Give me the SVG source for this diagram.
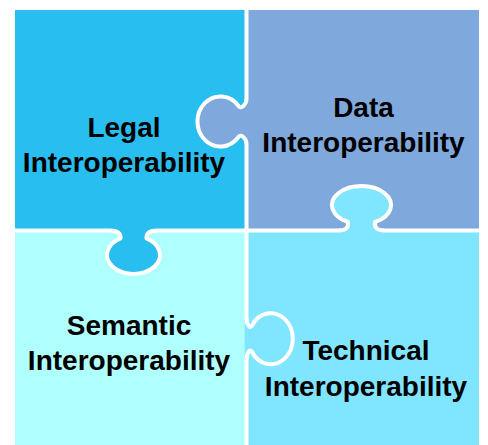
<svg xmlns="http://www.w3.org/2000/svg" width="488" height="445" viewBox="0 0 488 445">
<style>
.t{font-family:"Liberation Sans",Arial,sans-serif;font-weight:bold;font-size:28px;fill:#000;text-anchor:middle}
.ol{fill:none;stroke:#fff;stroke-width:4;stroke-linejoin:round}
</style>
<rect width="488" height="445" fill="#fff"/>
<g id="legal">
<rect x="15" y="10" width="229.5" height="218.5" fill="#29BEF0"/>
</g>
<g id="data">
<rect x="248.5" y="10" width="230.5" height="218.5" fill="#7FA8DC"/>
</g>
<g id="semantic">
<rect x="15" y="232.5" width="229.5" height="213" fill="#B0FFFF"/>
</g>
<g id="technical">
<rect x="248.5" y="232.5" width="230.5" height="213" fill="#80E5FF"/>
</g>
<g id="knobs">
<path d="M246.5 99 C246.5 104 241 110 238.5 106 A23 25 0 1 0 238.5 137 C241 133 246.5 139 246.5 144 L250 144 L250 99 Z" fill="#7FA8DC"/>
<path class="ol" d="M246.5 99 C246.5 104 241 110 238.5 106 A23 25 0 1 0 238.5 137 C241 133 246.5 139 246.5 144"/>
<path d="M339 230.5 C345 230.5 349 228 348 222 A29.5 19 0 1 1 375 222 C374 228 378 230.5 384 230.5 L384 234 L339 234 Z" fill="#80E5FF"/>
<path class="ol" d="M339 230.5 C345 230.5 349 228 348 222 A29.5 19 0 1 1 375 222 C374 228 378 230.5 384 230.5"/>
<path d="M110 230.5 C117 230.5 121 233 120.5 238.4 A26.5 19 0 1 0 146.5 238.4 C146 233 150 230.5 157 230.5 L157 227 L110 227 Z" fill="#29BEF0"/>
<path class="ol" d="M110 230.5 C117 230.5 121 233 120.5 238.4 A26.5 19 0 1 0 146.5 238.4 C146 233 150 230.5 157 230.5"/>
<path d="M246.5 318 C246.5 324 250 330 252 325.5 A22 25.5 0 1 1 252 352 C250 347.5 246.5 353.5 246.5 359.5 L244.5 359.5 L244.5 318 Z" fill="#80E5FF"/>
<path class="ol" d="M246.5 318 C246.5 324 250 330 252 325.5 A22 25.5 0 1 1 252 352 C250 347.5 246.5 353.5 246.5 359.5"/>
</g>
<g id="labels">
<text class="t" x="124" y="137">Legal</text>
<text class="t" x="124" y="172">Interoperability</text>
<text class="t" x="363.5" y="117">Data</text>
<text class="t" x="363.5" y="152">Interoperability</text>
<text class="t" x="129" y="335">Semantic</text>
<text class="t" x="129" y="370">Interoperability</text>
<text class="t" x="366" y="360">Technical</text>
<text class="t" x="366" y="396">Interoperability</text>
</g>
</svg>
